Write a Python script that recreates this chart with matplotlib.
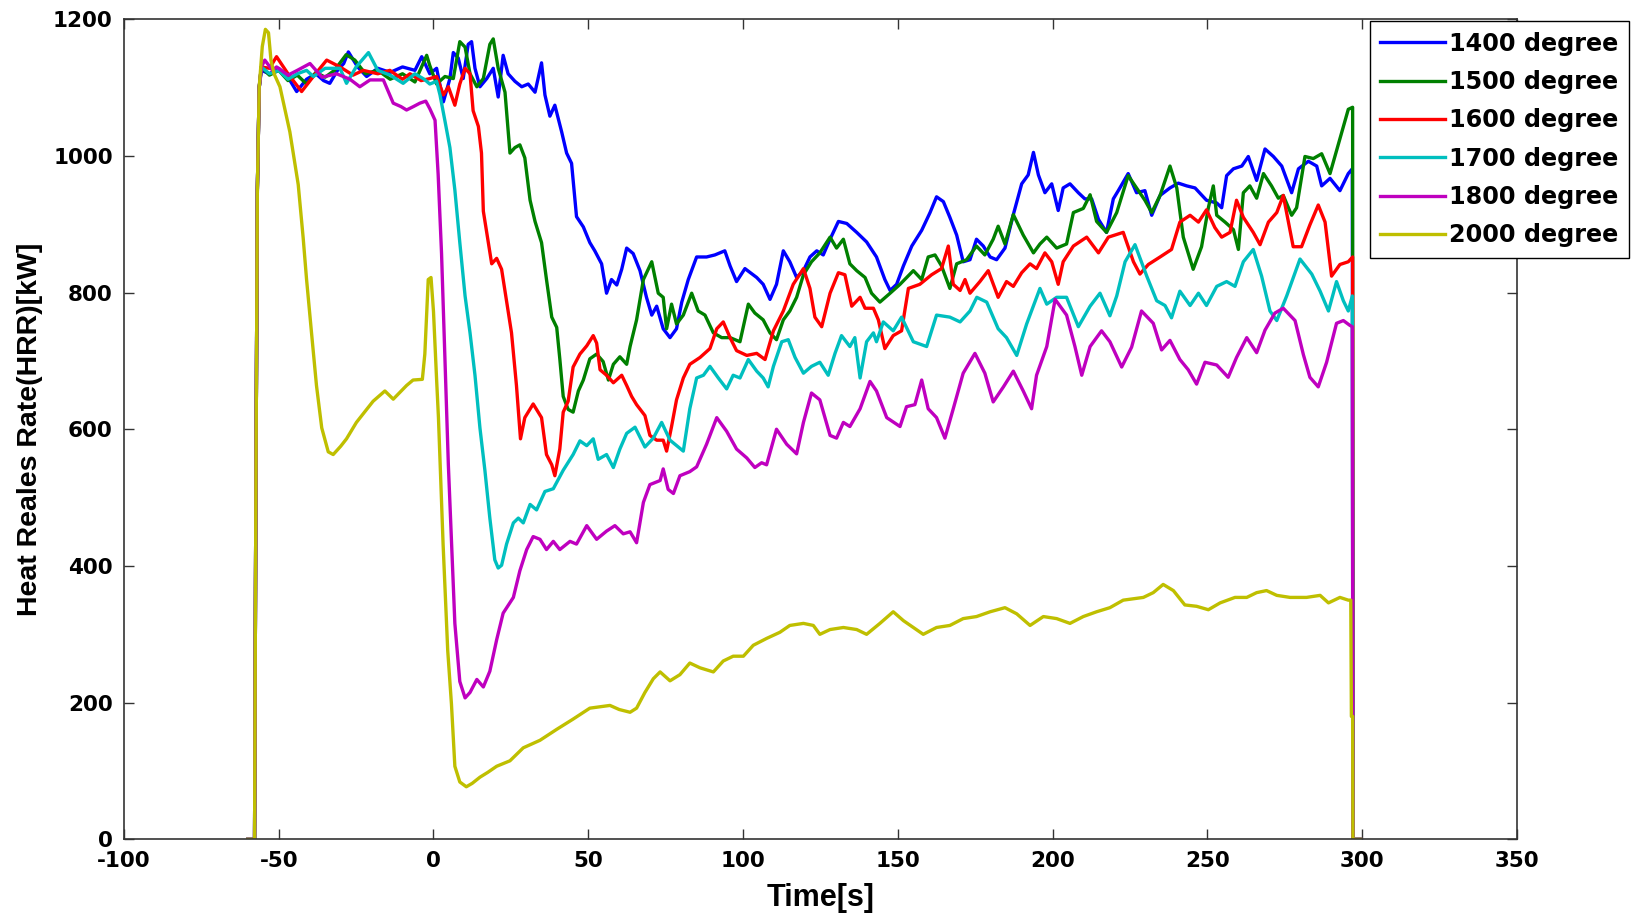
import matplotlib
matplotlib.use('Agg')
import matplotlib.pyplot as plt

plt.rcParams['axes.unicode_minus'] = False

# Curvas de HRR: (tempo [s], HRR [kW])
hrr_1400 = [(-60, 0), (-57.8, 0), (-57.4, 480), (-56.9, 950), (-56.3, 1100), (-55.6, 1125), (-53, 1120), (-50, 1128),
            (-47, 1115), (-44.2, 1094), (-41, 1112), (-38, 1120), (-35.5, 1110), (-33.5, 1106), (-31, 1125), (-29, 1135),
            (-27.5, 1152), (-24.5, 1130), (-21.6, 1116), (-18, 1128), (-14, 1122), (-10, 1130), (-6, 1125), (-3.8, 1145),
            (-1.2, 1120), (1.0, 1128), (3.2, 1079), (5.3, 1113), (6.4, 1151), (8.0, 1143), (9.6, 1113), (11.2, 1163),
            (12.3, 1167), (13.4, 1128), (15.0, 1101), (17.2, 1113), (19.3, 1128), (20.9, 1086), (22.5, 1147), (24.1, 1120),
            (26.3, 1109), (28.5, 1101), (30.6, 1105), (32.8, 1093), (34.9, 1136), (36.0, 1089), (37.6, 1058), (39.2, 1074),
            (41.4, 1035), (43.0, 1004), (44.6, 989), (46.2, 911), (48.4, 896), (50.5, 873), (52.1, 861), (54.3, 842),
            (55.9, 799), (57.5, 819), (59.2, 811), (60.8, 834), (62.4, 865), (64.5, 857), (66.7, 832), (68.8, 793),
            (70.5, 767), (72.1, 780), (74.2, 747), (76.4, 734), (78.5, 747), (80.2, 786), (82.3, 819), (85.0, 852),
            (88.2, 852), (90.9, 855), (94.1, 861), (95.8, 839), (97.9, 816), (100.6, 835), (104.4, 822), (106.5, 812),
            (108.7, 790), (110.8, 812), (113.0, 861), (115.1, 845), (117.3, 822), (119.5, 832), (121.6, 852), (123.8, 861),
            (125.9, 855), (128.1, 878), (130.8, 904), (133.5, 901), (136.7, 888), (139.9, 874), (143.1, 852), (145.8, 819),
            (147.5, 803), (149.6, 812), (151.8, 839), (154.5, 868), (157.7, 891), (160.4, 917), (162.5, 940), (164.7, 933),
            (166.8, 910), (169.0, 884), (171.1, 845), (173.3, 848), (175.4, 878), (177.6, 868), (179.8, 852), (181.9, 848),
            (184.6, 865), (187.3, 914), (190.0, 959), (192.1, 972), (193.8, 1005), (195.4, 972), (197.5, 946), (199.7, 959),
            (201.8, 920), (203.4, 953), (205.6, 959), (208.3, 946), (210.4, 937), (212.6, 937), (214.8, 907), (217.4, 888),
            (219.6, 937), (221.2, 949), (224.4, 974), (227.1, 946), (229.8, 949), (232.0, 913), (234.7, 942), (237.9, 953),
            (240.6, 960), (243.3, 956), (246.0, 953), (249.7, 935), (253.0, 931), (254.6, 924), (256.2, 971), (258.4, 981),
            (261.1, 985), (263.2, 999), (265.9, 964), (268.6, 1010), (271.3, 999), (274.0, 985), (277.2, 946), (279.4, 981),
            (282.6, 992), (285.3, 985), (286.9, 956), (289.6, 967), (292.8, 949), (295.5, 974), (296.8, 981), (297.0, 0),
            (299.5, 0)]

hrr_1500 = [(-60, 0), (-57.8, 0), (-57.4, 480), (-56.9, 950), (-56.3, 1100), (-55.6, 1130), (-53, 1118), (-50, 1125),
            (-47, 1110), (-44, 1118), (-41, 1105), (-38, 1122), (-35, 1115), (-32, 1125), (-28.2, 1148), (-25.4, 1140),
            (-22, 1120), (-18, 1125), (-14, 1112), (-10, 1120), (-6, 1108), (-2.2, 1147), (-1.2, 1132), (1.0, 1105),
            (3.7, 1116), (6.4, 1113), (8.5, 1167), (10.2, 1159), (11.8, 1120), (14.0, 1101), (16.1, 1113), (18.2, 1163),
            (19.3, 1171), (20.9, 1128), (23.1, 1093), (24.7, 1004), (26.3, 1012), (27.9, 1016), (29.5, 997), (31.2, 935),
            (32.8, 904), (34.9, 873), (36.5, 819), (38.2, 764), (39.8, 749), (40.8, 703), (41.9, 648), (43.5, 629),
            (45.1, 625), (46.8, 656), (48.4, 672), (50.5, 703), (52.7, 710), (54.8, 699), (56.5, 672), (58.1, 695),
            (60.2, 706), (62.4, 695), (63.5, 721), (65.6, 760), (67.8, 819), (70.5, 845), (72.6, 799), (74.2, 793),
            (75.3, 747), (76.9, 783), (78.5, 754), (80.7, 767), (83.4, 799), (85.5, 773), (87.7, 767), (90.4, 741),
            (93.1, 734), (95.8, 734), (99.0, 728), (101.7, 783), (103.8, 770), (106.5, 760), (108.7, 741), (110.8, 731),
            (113.0, 760), (115.1, 773), (117.3, 793), (119.5, 826), (122.1, 845), (124.8, 858), (128.1, 881), (130.2, 865),
            (132.4, 878), (134.5, 842), (136.7, 832), (139.4, 822), (141.5, 799), (144.2, 786), (147.5, 799), (150.7, 812),
            (155.0, 832), (157.7, 819), (159.8, 852), (162.0, 855), (164.1, 839), (166.8, 806), (169.0, 842), (172.2, 848),
            (175.4, 868), (178.1, 855), (180.8, 878), (182.4, 897), (184.6, 871), (187.3, 914), (190.5, 884), (193.8, 858),
            (195.9, 871), (198.1, 881), (201.3, 865), (204.5, 871), (206.7, 917), (209.9, 923), (212.1, 943), (214.2, 904),
            (217.4, 888), (220.7, 917), (224.4, 971), (227.1, 953), (229.8, 935), (232.0, 917), (234.7, 942), (237.9, 985),
            (240.1, 953), (242.2, 881), (245.4, 834), (248.1, 867), (250.3, 924), (251.9, 956), (253.0, 913), (255.7, 903),
            (258.4, 892), (260.0, 863), (261.6, 946), (263.7, 956), (265.9, 938), (268.1, 974), (270.7, 956), (272.9, 938),
            (274.5, 942), (277.2, 913), (278.8, 924), (281.5, 999), (284.2, 996), (286.9, 1003), (289.6, 974), (292.8, 1025),
            (295.5, 1068), (296.9, 1071), (297.0, 0), (299.5, 0)]

hrr_1600 = [(-60, 0), (-57.8, 0), (-57.4, 480), (-56.9, 950), (-56.3, 1100), (-55.6, 1130), (-53, 1128), (-50.7, 1145),
            (-47, 1120), (-42.6, 1094), (-39, 1115), (-34.5, 1140), (-30.2, 1130), (-26, 1118), (-22.7, 1125), (-18, 1120),
            (-14.1, 1125), (-10, 1112), (-7.6, 1120), (-4, 1110), (-1.2, 1113), (1.0, 1116), (3.2, 1089), (4.8, 1101),
            (6.9, 1074), (8.5, 1105), (10.2, 1128), (11.8, 1120), (12.8, 1066), (14.5, 1043), (15.5, 1004), (16.1, 919),
            (17.7, 873), (18.8, 842), (20.4, 850), (22.0, 834), (23.6, 788), (25.2, 741), (26.8, 664), (28.1, 586),
            (29.5, 617), (32.2, 637), (34.9, 617), (36.5, 563), (38.2, 548), (39.2, 532), (40.8, 571), (41.9, 625),
            (43.5, 641), (45.1, 691), (47.3, 710), (49.5, 722), (51.6, 737), (52.7, 726), (53.8, 687), (55.9, 679),
            (58.1, 668), (60.8, 679), (62.4, 664), (64.0, 648), (65.6, 636), (68.3, 620), (69.9, 591), (72.1, 584),
            (74.2, 584), (75.3, 568), (76.9, 604), (78.5, 643), (80.7, 675), (82.8, 695), (86.1, 705), (89.3, 718),
            (91.5, 747), (93.6, 757), (95.8, 734), (97.9, 715), (101.2, 708), (104.4, 711), (107.1, 702), (109.8, 744),
            (113.0, 773), (116.2, 812), (119.5, 835), (121.6, 806), (123.2, 764), (125.4, 750), (128.1, 799), (130.8, 829),
            (132.9, 826), (135.1, 780), (137.8, 793), (139.4, 777), (142.1, 777), (143.7, 760), (145.8, 718), (148.5, 737),
            (151.2, 744), (153.4, 806), (157.1, 812), (160.9, 826), (164.1, 835), (166.3, 868), (167.9, 812), (170.1, 803),
            (171.7, 819), (173.3, 799), (176.5, 816), (179.2, 832), (182.4, 793), (185.1, 816), (187.3, 809), (190.0, 829),
            (192.7, 842), (194.8, 835), (197.5, 858), (199.7, 845), (201.8, 812), (203.4, 845), (206.7, 868), (211.0, 881),
            (214.8, 858), (218.0, 881), (222.8, 888), (226.1, 845), (228.2, 827), (230.9, 841), (234.7, 852), (238.4, 863),
            (241.1, 903), (244.4, 913), (247.1, 903), (249.7, 921), (252.4, 895), (254.6, 881), (257.3, 888), (259.4, 935),
            (261.6, 910), (264.8, 888), (267.0, 870), (269.7, 903), (272.4, 917), (274.5, 942), (277.7, 867), (280.4, 867),
            (283.1, 899), (285.8, 928), (288.0, 903), (290.1, 824), (292.8, 841), (295.5, 845), (296.9, 852), (297.0, 0),
            (299.5, 0)]

hrr_1700 = [(-60, 0), (-57.8, 0), (-57.4, 480), (-56.9, 950), (-56.3, 1100), (-55.6, 1130), (-53, 1120), (-50, 1125),
            (-47, 1112), (-44, 1120), (-41, 1125), (-38.8, 1116), (-35, 1128), (-30.2, 1128), (-28.1, 1106), (-25, 1130),
            (-21, 1151), (-18, 1125), (-14, 1118), (-9.8, 1106), (-6, 1120), (-3, 1112), (-1.2, 1105), (1.0, 1109),
            (2.1, 1089), (3.7, 1051), (5.3, 1012), (6.9, 950), (8.5, 873), (10.2, 795), (11.8, 741), (13.4, 679),
            (15.0, 602), (16.6, 540), (18.2, 470), (19.8, 409), (20.9, 397), (22.0, 401), (23.6, 432), (25.8, 463),
            (27.4, 470), (29.0, 463), (31.2, 490), (33.3, 482), (36.0, 509), (38.7, 513), (41.9, 540), (45.1, 563),
            (47.3, 583), (49.5, 576), (51.6, 586), (53.2, 556), (55.9, 563), (58.1, 544), (60.2, 571), (62.4, 594),
            (65.1, 603), (68.3, 574), (71.0, 587), (73.7, 610), (76.4, 584), (79.1, 574), (80.7, 568), (82.8, 630),
            (85.0, 675), (87.2, 679), (89.3, 692), (92.0, 675), (94.7, 659), (96.8, 679), (99.0, 675), (101.7, 702),
            (104.4, 685), (106.5, 675), (108.1, 662), (109.8, 692), (112.5, 728), (114.6, 731), (116.8, 705), (119.5, 682),
            (122.1, 692), (124.8, 698), (127.5, 679), (129.7, 711), (131.8, 737), (134.5, 721), (136.1, 734), (137.8, 675),
            (139.9, 728), (142.1, 741), (143.1, 728), (145.3, 757), (148.5, 744), (151.2, 764), (155.0, 728), (159.3, 721),
            (162.5, 767), (166.8, 764), (170.1, 757), (173.3, 773), (175.5, 793), (178.7, 786), (182.4, 747), (185.1, 734),
            (188.4, 708), (191.6, 754), (195.9, 806), (198.1, 783), (201.3, 793), (204.5, 793), (208.3, 750), (212.1, 780),
            (215.3, 799), (218.5, 766), (220.7, 795), (223.4, 845), (226.6, 870), (230.4, 824), (233.6, 788), (236.3, 781),
            (238.4, 763), (241.1, 802), (244.4, 781), (247.1, 799), (249.7, 781), (253.0, 809), (256.2, 816), (258.9, 809),
            (261.6, 845), (264.8, 863), (267.5, 824), (270.2, 773), (272.4, 759), (275.6, 795), (279.9, 849), (283.7, 827),
            (286.4, 802), (289.1, 773), (291.7, 816), (293.9, 788), (295.5, 773), (296.8, 795), (297.0, 0), (299.5, 0)]

hrr_1800 = [(-60, 0), (-57.8, 0), (-57.4, 480), (-56.9, 950), (-56.3, 1100), (-55.6, 1130), (-54.5, 1140), (-52, 1125),
            (-50.7, 1130), (-47, 1118), (-44, 1125), (-39.9, 1135), (-36, 1115), (-31.3, 1120), (-27, 1112), (-23.8, 1101),
            (-20.5, 1111), (-16.2, 1111), (-13.0, 1077), (-10.5, 1072), (-8.7, 1067), (-6.5, 1072), (-4.4, 1077),
            (-2.5, 1080), (-1.2, 1069), (0.5, 1052), (1.5, 973), (2.6, 857), (3.7, 702), (4.8, 548), (5.85, 432),
            (6.9, 316), (8.5, 231), (10.2, 207), (11.8, 215), (14.0, 234), (16.1, 223), (18.2, 246), (20.4, 292),
            (22.5, 331), (25.8, 354), (27.9, 393), (30.1, 424), (32.2, 443), (34.4, 439), (36.5, 424), (38.7, 436),
            (40.8, 424), (44.1, 436), (46.2, 432), (49.5, 459), (52.7, 439), (55.9, 451), (58.6, 459), (61.3, 447),
            (63.5, 450), (65.6, 434), (67.8, 493), (69.9, 519), (73.2, 525), (74.2, 542), (75.8, 512), (77.5, 506),
            (79.6, 532), (82.8, 538), (85.0, 545), (88.2, 578), (91.5, 617), (94.7, 597), (97.9, 571), (101.2, 558),
            (103.8, 544), (106.0, 551), (107.6, 548), (110.8, 600), (114.1, 578), (117.3, 564), (119.5, 610), (122.1, 653),
            (124.8, 643), (128.1, 591), (130.2, 587), (132.4, 610), (134.5, 604), (137.8, 630), (141.0, 670), (143.1, 656),
            (146.4, 617), (150.7, 604), (152.8, 633), (155.5, 636), (157.7, 672), (159.8, 630), (162.5, 617), (165.2, 587),
            (167.9, 630), (171.1, 682), (174.9, 711), (178.1, 682), (180.8, 640), (184.1, 662), (187.3, 685), (190.5, 656),
            (193.2, 630), (194.8, 679), (198.1, 721), (200.8, 790), (204.5, 767), (207.2, 721), (209.4, 679), (212.1, 721),
            (215.8, 744), (218.5, 728), (222.3, 691), (225.5, 720), (228.7, 773), (232.5, 755), (235.2, 716), (237.9, 730),
            (241.1, 702), (243.8, 687), (246.5, 666), (249.2, 698), (253.0, 694), (256.7, 676), (259.4, 705), (262.7, 734),
            (265.9, 712), (268.6, 745), (271.8, 770), (274.5, 777), (278.3, 759), (281.0, 709), (283.1, 676), (285.8, 662),
            (288.5, 698), (291.7, 755), (293.9, 759), (296.0, 752), (296.8, 750), (297.0, 0), (299.5, 0)]

hrr_2000 = [(-60, 0), (-57.8, 0), (-57.4, 480), (-56.9, 950), (-56.3, 1100), (-55.3, 1160), (-54.3, 1185), (-53.3, 1180),
            (-52.5, 1140), (-51.5, 1120), (-49.6, 1101), (-46.4, 1035), (-43.7, 958), (-42.1, 880), (-41.0, 819),
            (-39.4, 741), (-37.8, 664), (-36.1, 602), (-34.0, 567), (-32.4, 563), (-30, 575), (-28.1, 586), (-24.9, 610),
            (-21.6, 629), (-19.5, 641), (-15.7, 656), (-13.0, 644), (-8.7, 664), (-6.6, 672), (-3.6, 673), (-2.8, 710),
            (-1.7, 819), (-0.8, 822), (0, 772), (1.0, 673), (1.6, 617), (3.1, 432), (4.6, 276), (5.8, 198), (6.9, 107),
            (8.5, 84), (10.6, 77), (12.5, 82), (15.0, 91), (17.5, 98), (20.4, 107), (24.7, 115), (29.0, 134), (34.4, 145),
            (39.8, 161), (45.1, 176), (50.5, 192), (57.0, 196), (60.0, 190), (63.5, 186), (65.6, 192), (68.3, 215),
            (71.0, 235), (73.2, 245), (76.4, 232), (79.6, 241), (82.8, 258), (86.1, 251), (90.4, 245), (93.6, 261),
            (96.8, 268), (100.1, 268), (103.3, 284), (107.6, 294), (111.9, 303), (115.1, 313), (119.5, 316), (122.7, 313),
            (124.8, 300), (128.1, 307), (132.4, 310), (136.7, 307), (139.9, 300), (144.2, 316), (148.5, 333), (151.8, 320),
            (155.0, 310), (158.2, 300), (162.5, 310), (166.8, 313), (171.1, 323), (175.4, 326), (179.8, 333), (184.6, 339),
            (188.4, 330), (192.7, 313), (197.0, 326), (201.3, 323), (205.6, 316), (209.9, 326), (214.2, 333), (218.5, 339),
            (222.8, 350), (229.3, 354), (232.5, 361), (235.7, 373), (239.0, 364), (242.7, 343), (246.5, 341), (250.3, 336),
            (254.1, 346), (258.9, 354), (262.7, 354), (265.9, 361), (269.1, 364), (272.4, 357), (276.7, 354), (282.0, 354),
            (286.4, 357), (289.1, 346), (292.8, 354), (295.5, 350), (296.3, 350), (296.5, 180), (296.9, 180), (297.0, 0),
            (299.5, 0)]

series = [hrr_1400, hrr_1500, hrr_1600, hrr_1700, hrr_1800, hrr_2000]
labels = ['1400 degree', '1500 degree', '1600 degree', '1700 degree', '1800 degree', '2000 degree']
cores = ['#0000ff', '#008000', '#ff0000', '#00bfbf', '#bf00bf', '#bfbf00']

x_ticks = [-100, -50, 0, 50, 100, 150, 200, 250, 300, 350]
y_ticks = [0, 200, 400, 600, 800, 1000, 1200]

fig = plt.figure(figsize=(16.37, 9.13), dpi=100)
ax = fig.add_axes([0.0757, 0.0806, 0.8510, 0.8985])

for dados, label, cor in zip(series, labels, cores):
    t = [p[0] for p in dados]
    v = [p[1] for p in dados]
    ax.plot(t, v, color=cor, linewidth=2.4, label=label)

ax.set_xlim(-100, 350)
ax.set_ylim(0, 1200)
ax.set_xticks(x_ticks)
ax.set_yticks(y_ticks)
ax.tick_params(direction='in', length=7, width=1, top=True, right=True, pad=8, colors='#333333', labelcolor='black')
for lbl in ax.get_xticklabels() + ax.get_yticklabels():
    lbl.set_fontfamily('DejaVu Sans')
    lbl.set_fontweight('bold')
    lbl.set_fontsize(15.5)
for s in ax.spines.values():
    s.set_color('#333333')
    s.set_linewidth(1.2)

fonte_label = ['Liberation Sans Narrow', 'Liberation Sans']
ax.set_xlabel('Time[s]', family=fonte_label, fontweight='bold', fontsize=22, labelpad=9)
ax.set_ylabel('Heat Reales Rate(HRR)[kW]', family=fonte_label, fontweight='bold', fontsize=20.5, labelpad=7)

leg = ax.legend(loc='upper right', bbox_to_anchor=(0.995, 0.977), bbox_transform=fig.transFigure,
                prop={'family': 'DejaVu Sans', 'weight': 'bold', 'size': 17.2}, fancybox=False,
                edgecolor='black', framealpha=1, handlelength=2.7, handletextpad=0.17,
                labelspacing=0.60, borderpad=0.45, borderaxespad=0)
leg.get_frame().set_linewidth(1.0)

fig.savefig('out.png', dpi=100)
